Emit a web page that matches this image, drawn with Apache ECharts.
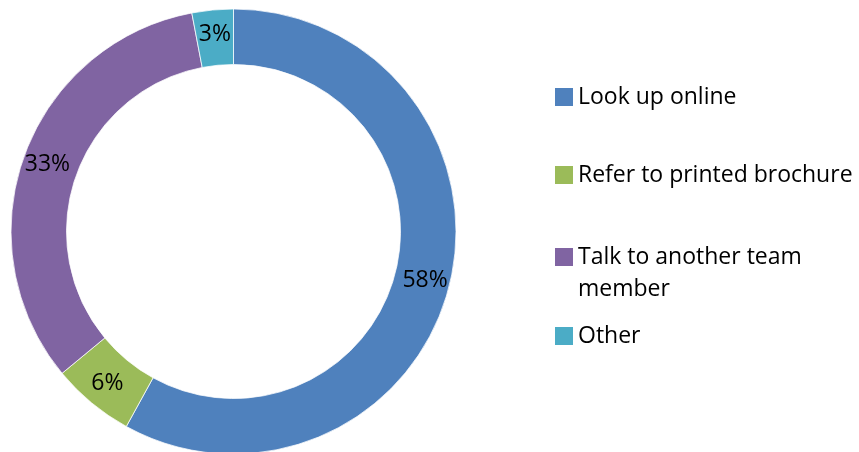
<!DOCTYPE html>
<html>
<head>
<meta charset="utf-8">
<style>
  html, body { margin: 0; padding: 0; background: #fff; }
  #chart { width: 859px; height: 452px; }
</style>
<script src="https://cdn.jsdelivr.net/npm/echarts@6/dist/echarts.min.js"></script>
</head>
<body>
<div id="chart"></div>
<script>
// Survey answers: how people find information
const categories = ['Look up online', 'Refer to printed brochure', 'Talk to another team member', 'Other'];
const shares = [58, 6, 33, 3];
const colors = ['#4F81BD', '#9BBB59', '#8064A2', '#4BACC6'];

// Legend labels, with the long one wrapped onto two lines
const legendLabels = ['Look up online', 'Refer to printed brochure', 'Talk to another team\nmember', 'Other'];

const FONT = '"Open Sans", "Noto Sans", sans-serif';
const FONT_SIZE = 23;
const LINE = 32;

// vertical centre of each legend swatch
const legendCenters = [97, 175, 257, 336];

const chart = echarts.init(document.getElementById('chart'), null, { renderer: 'canvas' });

const legends = categories.map((name, i) => {
  let text = legendLabels[i];
  const lines = text.split('\n').length;
  // legend text is centred on the swatch; leading blank lines push a wrapped
  // label down so its first line sits beside the swatch
  const blanks = lines - 1;
  text = '\n'.repeat(blanks) + text;
  const blockHalf = ((lines + blanks) * LINE) / 2;
  return {
    data: [name],
    orient: 'vertical',
    left: 555,
    top: legendCenters[i] - blockHalf,
    padding: 0,
    itemWidth: 18,
    itemHeight: 18,
    icon: 'rect',
    itemStyle: { borderWidth: 0 },
    selectedMode: false,
    formatter: () => text,
    textStyle: {
      fontFamily: FONT,
      fontSize: FONT_SIZE,
      lineHeight: LINE,
      color: '#000'
    }
  };
});

chart.setOption({
  animation: false,
  color: colors,
  legend: legends,
  series: [{
    type: 'pie',
    center: [233.5, 231.5],
    radius: [167, 222.5],
    startAngle: 90,
    clockwise: true,
    avoidLabelOverlap: false,
    itemStyle: { borderColor: '#fff', borderWidth: 0.75 },
    label: {
      show: true,
      position: 'inside',
      formatter: '{c}%',
      fontFamily: FONT,
      fontSize: FONT_SIZE,
      color: '#000',
      textBorderWidth: 0
    },
    labelLine: { show: false },
    emphasis: { disabled: true },
    data: categories.map((name, i) => ({ name, value: shares[i] }))
  }]
});
</script>
</body>
</html>
